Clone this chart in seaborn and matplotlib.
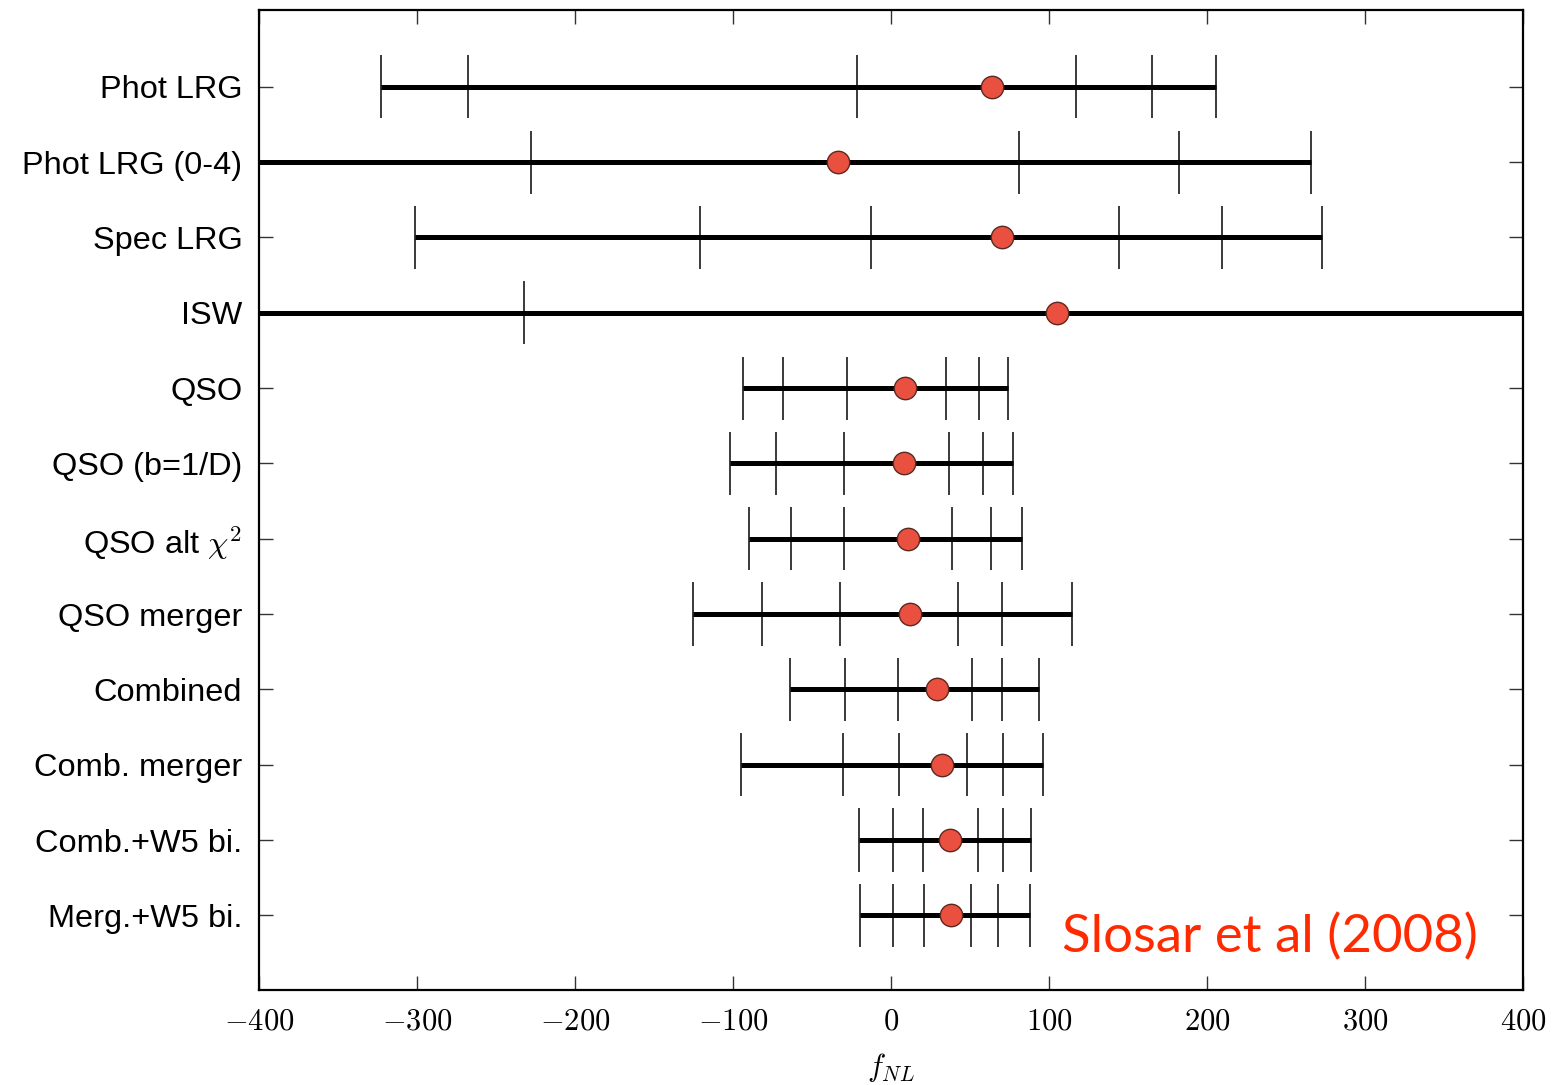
import matplotlib.pyplot as plt
import pandas as pd
import seaborn as sns

labels = [
    "Phot LRG", "Phot LRG (0-4)", "Spec LRG", "ISW", "QSO", "QSO (b=1/D)",
    r"QSO alt $\chi^2$", "QSO merger", "Combined", "Comb. merger",
    "Comb.+W5 bi.", "Merg.+W5 bi.",
]
center = [64, -33.5, 70, 105, 9, 8.5, 10.5, 12, 29, 32, 37.5, 38]
lo3 = [-323, -600, -301, -700, -93.5, -102, -90, -125.5, -64, -95, -20.5, -19.5]
lo2 = [-268, -450, -121, -480, -68.5, -72.5, -63.5, -81.5, -29, -30.5, 1, 1]
lo1 = [-21.5, -228, -12.7, -232, -28, -29.5, -29.5, -32.3, 4.6, 5, 20, 21]
hi1 = [117, 81, 144, 420, 34.5, 37, 38.5, 42.5, 51.5, 48, 55.3, 50.6]
hi2 = [165, 182, 209.5, 600, 55.7, 58.5, 63, 70.5, 70.4, 70.7, 70.7, 68]
hi3 = [206, 266, 273, 800, 74.2, 77.4, 82.7, 114.4, 93.7, 96, 88.6, 88]

df = pd.DataFrame({"label": labels, "fnl": center})
ypos = list(range(len(labels)))

sns.set_theme(style="white")
plt.rcParams["mathtext.fontset"] = "cm"
plt.rcParams["font.family"] = ["Liberation Sans", "DejaVu Sans"]

fig = plt.figure(figsize=(15.53, 10.85), dpi=100)
ax = fig.add_axes([259 / 1553, 1 - 990 / 1085, 1264 / 1553, 980 / 1085])

# main horizontal lines spanning the 3-sigma range
ax.hlines(ypos, lo3, hi3, color="black", lw=3.6, zorder=2)
# vertical bars at each sigma level
for bounds in (lo3, lo2, lo1, hi1, hi2, hi3):
    ax.vlines(bounds, [y - 0.42 for y in ypos], [y + 0.42 for y in ypos],
              color="#3a3a3a", lw=1.4, zorder=1)

sns.scatterplot(data=df, x="fnl", y="label", ax=ax, s=260, color="#e9503f",
                edgecolor="#5a2a22", linewidth=1.0, zorder=3)

ax.set_xlim(-400, 400)
ax.set_ylim(11.99, -1.02)
xt = [-400, -300, -200, -100, 0, 100, 200, 300, 400]
ax.set_xticks(xt)
ax.set_xticklabels([f"${v}$" for v in xt], fontsize=22, color="black")
ax.set_yticks(ypos)
ax.set_yticklabels(labels, fontsize=23.4, color="black")
ax.tick_params(axis="both", direction="in", length=10, width=1, color="#333333",
               top=True, right=True, bottom=True, left=True, pad=12)
ax.tick_params(axis="x", pad=12)
ax.set_xlabel(r"$f_{NL}$", fontsize=22, labelpad=10, color="black")
ax.set_ylabel("")
for sp in ax.spines.values():
    sp.set_color("black")
    sp.set_linewidth(1.6)

fig.text(1062 / 1553, 1 - 937 / 1085, "Slosar et al (2008)", color="#ff2a00",
         fontsize=38, family=["Lato", "DejaVu Sans"], va="center", ha="left")

plt.savefig("out.png", dpi=100)
